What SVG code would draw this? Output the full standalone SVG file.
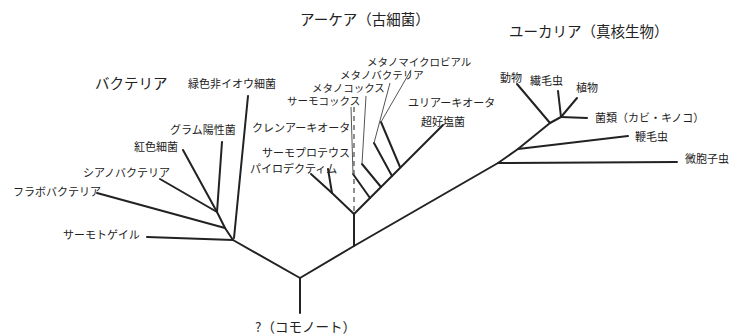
<svg xmlns="http://www.w3.org/2000/svg" width="737" height="336" viewBox="0 0 737 336">
<style>
text{font-family:"Noto Sans CJK JP","Noto Sans",sans-serif;fill:#222}
.t{font-size:14.5px}
.s{font-size:11px}
.a{font-size:10.5px}
.br{stroke:#222;stroke-width:2;fill:none;stroke-linecap:round;stroke-linejoin:round}
.th{stroke:#555;stroke-width:1;fill:none}
.da{stroke:#555;stroke-width:1.3;fill:none;stroke-dasharray:5 4}
</style>
<rect width="737" height="336" fill="#fff"/>
<g id="connectors">
<path class="br" d="M300,313 L300,278 L233,240"/>
<path class="br" d="M300,278 L354,246 L498,163 L518,149 L550,123 L561,117"/>
<path class="br" d="M233,240 L225,228 L217,212"/>
<path class="br" d="M233,240 L147,237"/>
<path class="br" d="M234,238 L248,96"/>
<path class="br" d="M225,228 L97,193"/>
<path class="br" d="M217,212 L160,179"/>
<path class="br" d="M217,212 L183,150"/>
<path class="br" d="M217,212 L222,142"/>
<path class="br" d="M354,246 L354,214 L332,193 L311,174"/>
<path class="br" d="M332,193 L328,169"/>
<path class="br" d="M354,214 L443,125"/>
<path class="br" d="M370,198 L353,174"/>
<path class="br" d="M381,187 L362,164"/>
<path class="br" d="M392,176 L374,143"/>
<path class="br" d="M400,167 L381,122"/>
<path class="da" d="M354,107 L354,213"/>
<path class="th" d="M351,107 L353,174"/>
<path class="th" d="M366,96 L362,164"/>
<path class="th" d="M390,83 L374,143"/>
<path class="th" d="M411,70 L381,122"/>
<path class="br" d="M498,163 L677,162"/>
<path class="br" d="M518,149 L628,136"/>
<path class="br" d="M550,123 L517,84"/>
<path class="br" d="M561,117 L558,91"/>
<path class="br" d="M561,117 L577,98"/>
<path class="br" d="M561,117 L587,118"/>
</g>
<g id="titles">
<text class="t" x="300" y="25">アーケア（古細菌）</text>
<text class="t" x="509" y="37">ユーカリア（真核生物）</text>
<text class="t" x="95" y="89">バクテリア</text>
</g>
<g id="root"><text x="255" y="332" style="font-size:13.5px">?（コモノート）</text></g>
<g id="bacteria-labels">
<text id="n-green" class="s" x="188" y="88">緑色非イオウ細菌</text>
<text id="n-gram" class="s" x="170" y="134">グラム陽性菌</text>
<text id="n-red" class="s" x="134" y="151">紅色細菌</text>
<text id="n-cyano" class="s" x="83" y="177">シアノバクテリア</text>
<text id="n-flavo" class="s" x="13" y="196">フラボバクテリア</text>
<text id="n-thermotoga" class="s" x="63" y="239">サーモトゲイル</text>
</g>
<g id="archaea-labels">
<text id="n-mmicro" class="a" x="367" y="66">メタノマイクロビアル</text>
<text id="n-mbact" class="a" x="340" y="79">メタノバクテリア</text>
<text id="n-mcoccus" class="a" x="312" y="92">メタノコックス</text>
<text id="n-tcoccus" class="a" x="287" y="105">サーモコックス</text>
<text id="n-eury" class="s" x="408" y="107">ユリアーキオータ</text>
<text id="n-halo" class="s" x="421" y="126">超好塩菌</text>
<text id="n-cren" class="s" x="252" y="132">クレンアーキオータ</text>
<text id="n-tprot" class="s" x="262" y="157">サーモプロテウス</text>
<text id="n-pyro" class="s" x="250" y="173">パイロデクティム</text>
</g>
<g id="eukarya-labels">
<text id="n-animal" class="s" x="500" y="82">動物</text>
<text id="n-cili" class="s" x="530" y="85">繊毛虫</text>
<text id="n-plant" class="s" x="576" y="92">植物</text>
<text id="n-fungi" class="s" x="595" y="122">菌類（カビ・キノコ）</text>
<text id="n-flag" class="s" x="635" y="141">鞭毛虫</text>
<text id="n-micro" class="s" x="685" y="163">微胞子虫</text>
</g>
</svg>
